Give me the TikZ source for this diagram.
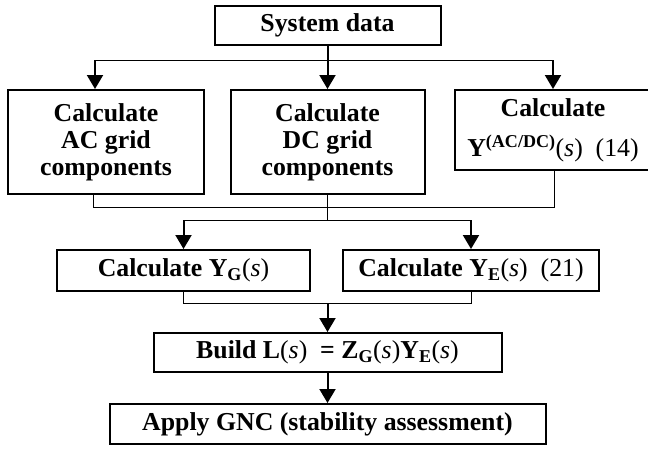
\documentclass[tikz,border=0pt]{standalone}
\usepackage{fontspec}
\setmainfont{Liberation Serif}
\usetikzlibrary{arrows.meta}
\newcommand{\argS}{\textnormal{(\textit{s})}}
\begin{document}
\begin{tikzpicture}[x=1pt,y=-1pt,
  box/.style={draw,line width=2pt,inner sep=0pt,align=center,
    font=\fontsize{25.8}{27}\selectfont\bfseries},
  thinline/.style={line width=1pt},
  arr/.style={line width=2pt,-{Triangle[width=16pt,length=14pt]}}]
\useasboundingbox (0,0) rectangle (648,448);
\node[box,minimum width=226pt,minimum height=39pt] (sys) at (327.5,25.5) {System data};
\node[box,minimum width=196pt,minimum height=104pt] (ac) at (106,142) {Calculate\\AC grid\\components};
\node[box,minimum width=194pt,minimum height=104pt] (dc) at (327.5,142) {Calculate\\DC grid\\components};
\node[box,minimum width=196pt,minimum height=80pt] (yac) at (553,130) {Calculate\\[13pt]Y\textsuperscript{(AC/DC)}\argS\ \ \textnormal{(14)}};
\node[box,minimum width=253pt,minimum height=41pt] (yg) at (183.5,270.5) {Calculate Y\textsubscript{G}\argS};
\node[box,minimum width=256pt,minimum height=41pt] (ye) at (471,270.5) {Calculate Y\textsubscript{E}\argS\ \ \textnormal{(21)}};
\node[box,minimum width=348pt,minimum height=39pt] (bl) at (327.5,352.5) {Build L\argS\ \ = Z\textsubscript{G}\argS Y\textsubscript{E}\argS};
\node[box,minimum width=436pt,minimum height=40pt] (ap) at (327.5,424) {Apply GNC (stability assessment)};
% top distribution
\coordinate (hl) at (95,60);
\coordinate (hr) at (553,60);
\draw[thinline] (hl) -- (hr);
\draw[arr] (hl) -- (hl |- ac.north);
\draw[arr] (hr) -- (yac.north);
\draw[arr] (sys.south) -- (dc.north);
% merge of three boxes
\coordinate (bl1) at (93,207.5);
\coordinate (br1) at (554,207.5);
\coordinate (m2l) at (183.5,220);
\coordinate (m2r) at (471,220);
\draw[thinline] (bl1 |- ac.south) -- (bl1) -- (br1) -- (br1 |- yac.south);
\draw[thinline] (dc.south) -- (dc.south |- m2l);
\draw[thinline] (m2l) -- (m2r);
\draw[arr] (m2l) -- (yg.north);
\draw[arr] (m2r) -- (ye.north);
% merge of two boxes
\coordinate (m3l) at (183.5,303);
\coordinate (m3r) at (471,303);
\draw[thinline] (yg.south) -- (m3l) -- (m3r) -- (ye.south);
\draw[arr] (bl.north |- m3l) -- (bl.north);
\draw[arr] (bl.south) -- (ap.north);
\end{tikzpicture}
\end{document}
